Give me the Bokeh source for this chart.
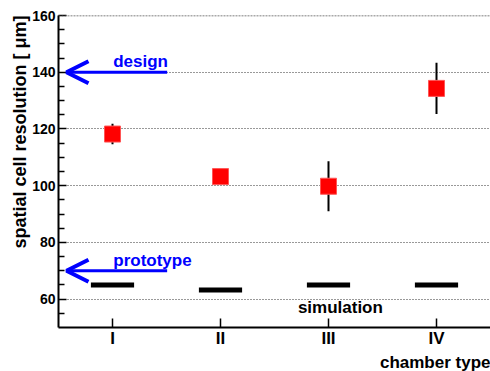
from bokeh.plotting import figure
from bokeh.models import (FixedTicker, Arrow, OpenHead, Label, Range1d, Title,
                          ColumnDataSource, Span)
from bokeh.embed import file_html
from bokeh.resources import INLINE

# ---- data ----
chambers = ["I", "II", "III", "IV"]
xpos = [1, 2, 3, 4]
measured = [118.2, 103.2, 99.8, 134.3]
meas_err = [3.6, 1.2, 8.8, 9.0]
simulated = [65.0, 63.2, 65.0, 65.0]
design_value = 140
prototype_value = 70
yticks = [60, 80, 100, 120, 140, 160]
yminor = [55, 65, 70, 75, 85, 90, 95, 105, 110, 115, 125, 130, 135, 145, 150, 155]

FONT = "Liberation Sans"

p = figure(width=490, height=371, x_range=Range1d(0.5, 4.5), y_range=Range1d(50, 160),
           output_backend="svg", toolbar_location=None,
           min_border_left=58, min_border_right=0, min_border_top=15, min_border_bottom=43)
p.outline_line_color = None
p.background_fill_color = "white"
p.border_fill_color = "white"

# axes
p.yaxis.ticker = FixedTicker(ticks=yticks, minor_ticks=yminor)
p.xaxis.ticker = FixedTicker(ticks=xpos, minor_ticks=[])
p.xaxis.major_label_overrides = {x: c for x, c in zip(xpos, chambers)}
for ax in (p.xaxis[0], p.yaxis[0]):
    ax.axis_line_width = 2
    ax.axis_line_color = "black"
    ax.major_tick_line_color = "black"
    ax.major_tick_line_width = 1.5
    ax.minor_tick_line_color = "black"
    ax.minor_tick_line_width = 1.5
    ax.major_tick_out = 0
    ax.minor_tick_out = 0
    ax.major_label_text_font = FONT
    ax.major_label_text_font_style = "bold"
    ax.major_label_text_color = "black"
p.yaxis.major_tick_in = 8
p.yaxis.minor_tick_in = 6
p.yaxis.major_label_text_font_size = "14px"
p.yaxis.major_label_standoff = 3
p.xaxis.major_tick_in = 9
p.xaxis.major_label_text_font_size = "17px"
p.xaxis.major_label_standoff = 1

# axis titles
p.add_layout(Title(text="spatial cell resolution [ \u03bcm]", align="right",
                   text_font=FONT, text_font_style="bold", text_font_size="18px",
                   text_color="black", standoff=0), "left")
p.add_layout(Title(text="chamber type", align="right",
                   text_font=FONT, text_font_style="bold", text_font_size="17px",
                   text_color="black", standoff=0), "below")

# grid
p.xgrid.grid_line_color = None
p.ygrid.ticker = FixedTicker(ticks=yticks)
p.ygrid.grid_line_color = "#333333"
p.ygrid.grid_line_dash = "1 2"
p.ygrid.grid_line_width = 1
p.add_layout(Span(location=yticks[-1], dimension="width", line_color="#555555",
                  line_dash="2 1", line_width=1.5))

# simulation bars
sim_src = ColumnDataSource(dict(x0=[x - 0.2 for x in xpos], x1=[x + 0.2 for x in xpos],
                                y=simulated))
p.segment(x0="x0", x1="x1", y0="y", y1="y", source=sim_src, line_color="black",
          line_width=5, line_cap="butt")

# measured with errors
m_src = ColumnDataSource(dict(x=xpos, y=measured,
                              lo=[m - e for m, e in zip(measured, meas_err)],
                              hi=[m + e for m, e in zip(measured, meas_err)]))
p.segment(x0="x", x1="x", y0="lo", y1="hi", source=m_src, line_color="black", line_width=2)
p.scatter(x="x", y="y", source=m_src, marker="square", size=16,
          fill_color="#ff0000", line_color="#ff5555", line_width=1)

# arrows
for val, txt, tx, ty in [(design_value, "design", 1.26, design_value + 3.8),
                         (prototype_value, "prototype", 1.37, prototype_value + 3.6)]:
    p.add_layout(Arrow(end=OpenHead(size=22, line_color="blue", line_width=4),
                       x_start=1.506, y_start=val, x_end=0.574, y_end=val,
                       line_color="blue", line_width=3))
    p.add_layout(Label(x=tx, y=ty, text=txt, text_align="center", text_baseline="middle",
                       text_font=FONT, text_font_style="bold", text_font_size="17px",
                       text_color="blue"))

p.add_layout(Label(x=3.11, y=57.2, text="simulation", text_align="center",
                   text_baseline="middle", text_font=FONT, text_font_style="bold",
                   text_font_size="17px", text_color="black"))

open("out.html", "w").write(file_html(p, INLINE))
